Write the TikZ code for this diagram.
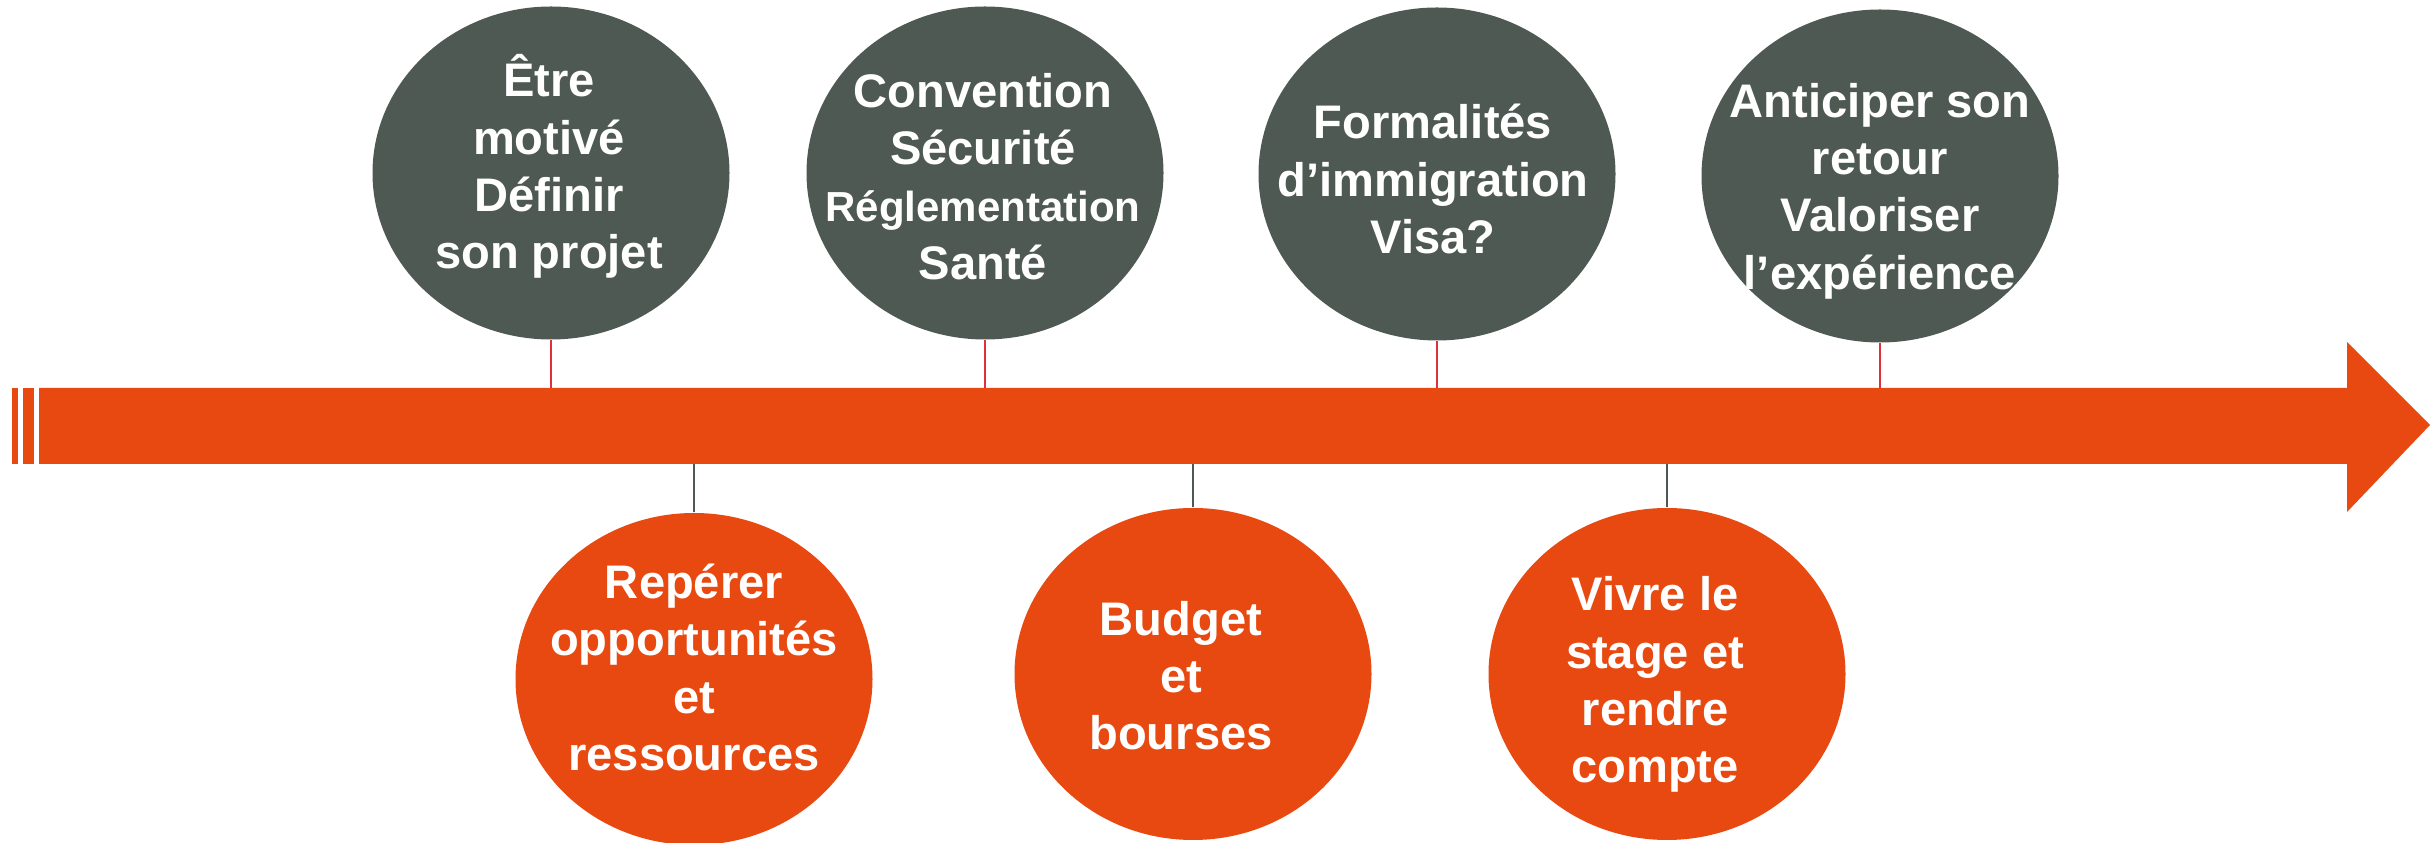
\documentclass[tikz,border=0pt]{standalone}
\usepackage{fontspec}
\setmainfont{Liberation Sans}
\usepackage{tikz}
\usetikzlibrary{calc}
\usetikzlibrary{shapes.geometric}
\definecolor{slate}{HTML}{4F5953}
\definecolor{rust}{HTML}{E84910}
\definecolor{tick}{HTML}{E0303A}
\tikzstyle{topstep}=[ellipse,fill=slate,minimum width=3.57cm,minimum height=3.33cm,inner sep=0]
\tikzstyle{botstep}=[ellipse,fill=rust,minimum width=3.57cm,minimum height=3.32cm,inner sep=0]
\tikzstyle{txt}=[text=white,align=center,inner sep=0,
                font=\bfseries\fontsize{13.4}{16.3}\selectfont]
\tikzstyle{uptick}=[draw=tick,line width=0.6pt]
\tikzstyle{downtick}=[draw=slate,line width=0.6pt]

\begin{document}
\begin{tikzpicture}
\useasboundingbox (0,0) rectangle (24.3,8.43);
% time line
\foreach \a/\b in {0.12/0.177,0.23/0.337}
\fill[rust] (\a,3.79) rectangle (\b,4.55);
\fill[rust] (0.39,3.79) -- (23.47,3.79) -- (23.47,3.31) -- (24.3,4.18)
  -- (23.47,5.01) -- (23.47,4.55) -- (0.39,4.55) -- cycle;
\coordinate (shafttop) at (0,4.55);
\coordinate (shaftbot) at (0,3.79);
\node[topstep] (e1) at (5.51,6.70) {};
\node[topstep] (e2) at (9.85,6.70) {};
\node[topstep] (e3) at (14.37,6.69) {};
\node[topstep] (e4) at (18.80,6.67) {};
\node[botstep] (b1) at (6.94,1.64) {};
\node[botstep] (b2) at (11.93,1.69) {};
\node[botstep] (b3) at (16.67,1.69) {};
\foreach \n in {e1,e2,e3,e4}
\coordinate (\n top) at (\n.south |- shafttop);
\foreach \n in {b1,b2,b3}
\coordinate (\n bot) at (\n.north |- shaftbot);
\foreach \n in {e1,e2,e3,e4}
\draw[uptick] (\n.south) -- (\n top);
\foreach \n in {b1,b2,b3}
\draw[downtick] (\n.north) -- (\n bot);
\node[txt] (t1) at (5.49,6.765) {Être\\motivé\\Définir\\son projet};
\node[txt] (t2) at (9.83,6.665) {Convention\\Sécurité\\{\fontsize{11.95}{14}\selectfont Réglementation}\\Santé};
\node[txt] (t3) at (14.33,6.64) {Formalités\\d’immigration\\Visa?};
\node[txt] (t4) at (18.80,6.52) {Anticiper son\\retour\\Valoriser\\l’expérience};
\node[txt] (t5) at (6.94,1.755) {Repérer\\opportunités\\et\\ressources};
\node[txt] (t6) at (11.81,1.675) {Budget\\et\\bourses};
\node[txt] (t7) at (16.55,1.585) {Vivre le\\stage et\\rendre\\compte};
\end{tikzpicture}
\end{document}
